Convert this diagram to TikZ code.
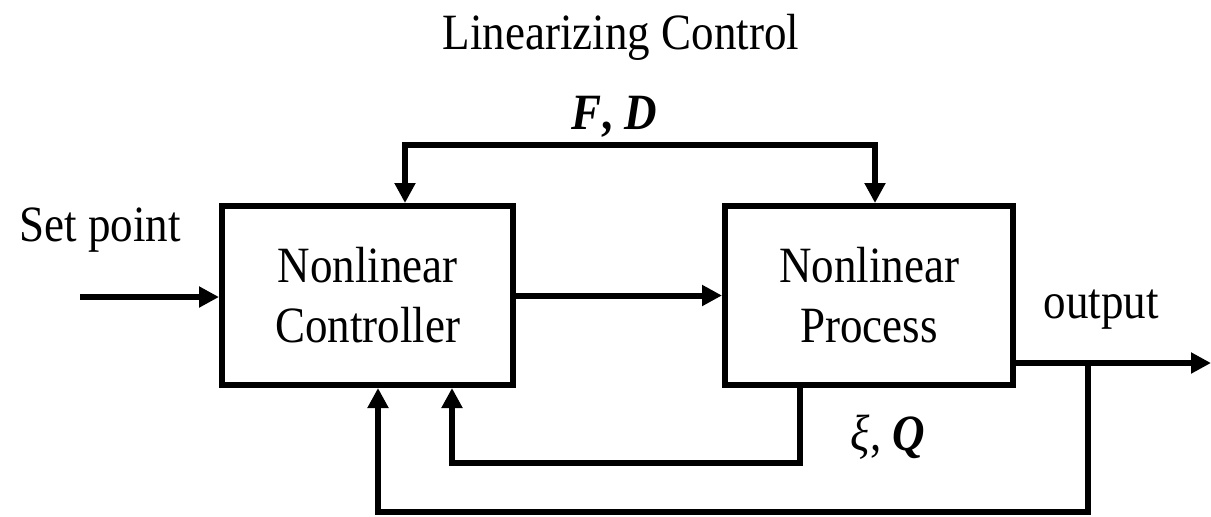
\documentclass[tikz,border=0pt]{standalone}
\usepackage{fontspec}
\setmainfont{Liberation Serif}
\usetikzlibrary{arrows.meta}
\newcommand\vstretch[1]{\scalebox{1}[1.13]{#1}}
\begin{document}
\begin{tikzpicture}[x=0.5pt,y=-0.5pt,
  line width=3pt,
  txt/.style={font=\fontsize{22.5pt}{30pt}\selectfont, inner sep=0pt, align=center},
  blockbox/.style={draw, line width=3pt, minimum width=#1, minimum height=89.5pt, inner sep=0pt, font=\fontsize{22.5pt}{30pt}\selectfont, align=center},
  arr/.style={-{Triangle[length=10pt,width=10pt]}},
  arrs/.style={{Triangle[length=10pt,width=10pt]}-{Triangle[length=10pt,width=10pt]}}]
\useasboundingbox (0,0) rectangle (1211,516);
\node[txt] (title) at (621,37) {\vstretch{Linearizing Control}};
\node[blockbox=145.5pt] (ctrl) at (367.5,295.5) {\vstretch{Nonlinear}\\\vstretch{Controller}};
\node[blockbox=144pt] (proc) at (869,295.5) {\vstretch{Nonlinear}\\\vstretch{Process}};
\node[txt] (sp) at (100,230) {\vstretch{Set point}};
\node[txt] (out) at (1101,310) {\vstretch{output}};
\node[txt] (fd) at (614,117) {\vstretch{\textbf{\textit{F}}\textbf{,} \textbf{\textit{D}}}};
\node[txt] (xq) at (888,437) {\vstretch{\textit{ξ}, \textbf{\textit{Q}}}};
\coordinate (spin) at (80,297);
\coordinate (fdl) at (405,145);
\coordinate (fdr) at (875,145);
\coordinate (inr) at (800,463);
\coordinate (inl) at (452,463);
\coordinate (outy) at (1013,363);
\coordinate (outend) at (1211,363);
\coordinate (br) at (1088,363);
\coordinate (bl) at (378,512);
\draw[arr] (spin) -- (spin -| ctrl.west);
\draw[arr] (ctrl.east) -- (proc.west);
\draw[arrs] (ctrl.north -| fdl) -- (fdl) -- (fdr) -- (proc.north -| fdr);
\draw[arr] (proc.south -| inr) -- (inr) -- (inl) -- (ctrl.south -| inl);
\draw[arr] (outy) -- (outend);
\draw[arr] (br) |- (bl) -- (ctrl.south -| bl);
\end{tikzpicture}
\end{document}
